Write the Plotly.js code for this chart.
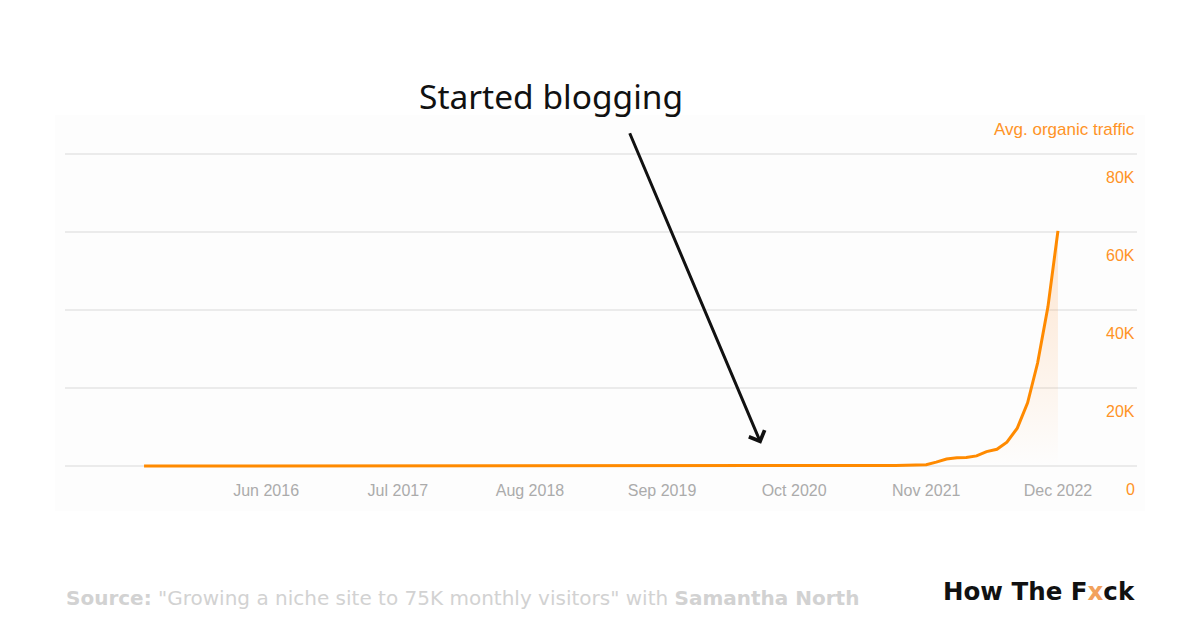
<!DOCTYPE html>
<html>
<head>
<meta charset="utf-8">
<script src="https://cdn.plot.ly/plotly-3.0.1.min.js"></script>
<style>
  html, body { margin: 0; padding: 0; background: #ffffff; }
  #chart { width: 1200px; height: 628px; }
</style>
</head>
<body>
<div id="chart"></div>
<script>
// ---- Data (monthly average organic traffic) ----
const months = [
  '2015-06-01','2015-07-01','2015-08-01','2015-09-01','2015-10-01','2015-11-01','2015-12-01',
  '2016-01-01','2016-02-01','2016-03-01','2016-04-01','2016-05-01','2016-06-01','2016-07-01','2016-08-01','2016-09-01','2016-10-01','2016-11-01','2016-12-01',
  '2017-01-01','2017-02-01','2017-03-01','2017-04-01','2017-05-01','2017-06-01','2017-07-01','2017-08-01','2017-09-01','2017-10-01','2017-11-01','2017-12-01',
  '2018-01-01','2018-02-01','2018-03-01','2018-04-01','2018-05-01','2018-06-01','2018-07-01','2018-08-01','2018-09-01','2018-10-01','2018-11-01','2018-12-01',
  '2019-01-01','2019-02-01','2019-03-01','2019-04-01','2019-05-01','2019-06-01','2019-07-01','2019-08-01','2019-09-01','2019-10-01','2019-11-01','2019-12-01',
  '2020-01-01','2020-02-01','2020-03-01','2020-04-01','2020-05-01','2020-06-01','2020-07-01','2020-08-01','2020-09-01','2020-10-01','2020-11-01','2020-12-01',
  '2021-01-01','2021-02-01','2021-03-01','2021-04-01','2021-05-01','2021-06-01','2021-07-01','2021-08-01','2021-09-01','2021-10-01','2021-11-01','2021-12-01',
  '2022-01-01','2022-02-01','2022-03-01','2022-04-01','2022-05-01','2022-06-01','2022-07-01','2022-08-01','2022-09-01','2022-10-01','2022-11-01','2022-12-01'
];
const traffic = [
  0,0,0,0,0,0,0,
  0,0,0,0,0,0,0,0,0,0,0,0,
  0,0,0,0,0,0,0,0,0,0,0,0,
  0,0,0,0,0,0,0,0,0,0,0,0,
  0,0,0,0,0,0,0,0,0,0,0,0,
  0,0,0,0,0,0,0,0,0,0,0,0,
  0,0,0,0,50,100,120,150,200,250,350,1000,
  1800,2100,2200,2600,3700,4300,6100,9700,16200,26400,40800,60300
];
const xTickVals = ['2016-06-01','2017-07-01','2018-08-01','2019-09-01','2020-10-01','2021-11-01','2022-12-01'];
const xTickText = ['Jun 2016','Jul 2017','Aug 2018','Sep 2019','Oct 2020','Nov 2021','Dec 2022'];
const yTickVals = [0, 20000, 40000, 60000, 80000];
const yTickText = ['0', '20K', '40K', '60K', '80K'];
const seriesName = 'Avg. organic traffic';
const annotationText = 'Started blogging';
const annotationPoint = ['2020-06-24', 5700];

const ORANGE = '#ff8a00';
const LABEL_ORANGE = '#ff9326';

const trace = {
  x: months,
  y: traffic,
  type: 'scatter',
  mode: 'lines',
  name: seriesName,
  line: { color: ORANGE, width: 3 },
  fill: 'tozeroy',
  fillgradient: {
    type: 'vertical',
    colorscale: [[0, 'rgba(255,140,40,0)'], [1, 'rgba(255,140,40,0.22)']]
  },
  hoverinfo: 'skip'
};

const annotations = [];
yTickVals.forEach((v, i) => {
  annotations.push({
    xref: 'paper', yref: 'y', x: 1, y: v,
    xanchor: 'right', yanchor: 'middle', yshift: -23,
    text: yTickText[i], showarrow: false,
    font: { family: 'Liberation Sans, Arial, sans-serif', size: 16, color: LABEL_ORANGE }
  });
});
annotations.push({
  xref: 'paper', yref: 'y', x: 1, y: 80000,
  xanchor: 'right', yanchor: 'middle', yshift: 25,
  text: seriesName, showarrow: false,
  font: { family: 'Liberation Sans, Arial, sans-serif', size: 17, color: LABEL_ORANGE }
});
// Arrow
annotations.push({
  xref: 'x', yref: 'y', x: annotationPoint[0], y: annotationPoint[1],
  text: '', showarrow: true, arrowhead: 4, arrowsize: 1.1, arrowwidth: 3,
  arrowcolor: '#111111', ax: -132, ay: -312, standoff: 0, startstandoff: 0
});
// Label
annotations.push({
  xref: 'paper', yref: 'paper', x: 0.4534, y: 1.165,
  xanchor: 'center', yanchor: 'middle',
  text: annotationText, showarrow: false,
  font: { family: 'Noto Sans, sans-serif', size: 33.5, color: '#111111' }
});
// Source
annotations.push({
  xref: 'paper', yref: 'paper', x: -0.001, y: -0.375,
  xanchor: 'left', yanchor: 'middle', showarrow: false,
  text: '<b>Source:</b> "Growing a niche site to 75K monthly visitors" with <b>Samantha North</b>',
  font: { family: 'DejaVu Sans, sans-serif', size: 20, color: '#d2d2d2' }
});
// Logo
annotations.push({
  xref: 'paper', yref: 'paper', x: 1, y: -0.355,
  xanchor: 'right', yanchor: 'middle', showarrow: false,
  text: '<b>How The F<span style="color:#f2a15c">x</span>ck</b>',
  font: { family: 'DejaVu Sans, sans-serif', size: 24.5, color: '#111111' }
});

const layout = {
  width: 1200, height: 628,
  margin: { l: 65, r: 63, t: 150, b: 152 },
  paper_bgcolor: '#ffffff',
  plot_bgcolor: 'rgba(0,0,0,0)',
  showlegend: false,
  xaxis: {
    type: 'date',
    range: ['2014-10-07', '2023-07-26'],
    tickmode: 'array', tickvals: xTickVals, ticktext: xTickText,
    showgrid: false, zeroline: false, showline: false, ticks: '',
    ticklabelstandoff: 3,
    tickfont: { family: 'Liberation Sans, Arial, sans-serif', size: 16, color: '#ababab' },
    fixedrange: true
  },
  yaxis: {
    range: [-2564, 81026],
    tickmode: 'array', tickvals: yTickVals,
    showticklabels: false, ticks: '',
    showgrid: true, gridcolor: '#ebebeb', gridwidth: 1.5,
    zeroline: false, showline: false, fixedrange: true
  },
  shapes: [{
    type: 'rect', xref: 'paper', yref: 'paper', layer: 'below',
    x0: -0.0093, x1: 1.0075, y0: -0.108, y1: 1.108,
    fillcolor: '#fdfdfd', line: { width: 0 }
  }],
  annotations: annotations
};

Plotly.newPlot('chart', [trace], layout, { displayModeBar: false, staticPlot: true });
</script>
</body>
</html>
